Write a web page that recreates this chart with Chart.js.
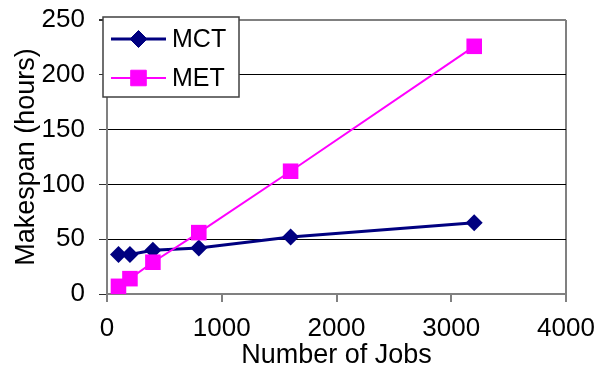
<!DOCTYPE html>
<html>
<head>
<meta charset="utf-8">
<script src="https://cdn.jsdelivr.net/npm/chart.js@4/dist/chart.umd.min.js"></script>
<style>
  html, body { margin: 0; padding: 0; background: #fff; }
  #wrap { width: 612px; height: 367px; }
</style>
</head>
<body>
<div id="wrap"><canvas id="c" width="612" height="367"></canvas></div>
<script>
// Makespan versus number of jobs for the MCT and MET heuristics
const jobCounts = [100, 200, 400, 800, 1600, 3200];
const mctHours = [36, 36, 40, 42, 52, 65];
const metHours = [7, 14, 29, 56, 112, 226];
const seriesNames = ['MCT', 'MET'];
const xTicks = [0, 1000, 2000, 3000, 4000];
const yTicks = [0, 50, 100, 150, 200, 250];

const FONT = "'Liberation Sans', Arial, sans-serif";
const GRAY = '#808080';
const NAVY = '#000080';
const MAGENTA = '#FF00FF';

const toPoints = (xs, ys) => xs.map((x, i) => ({ x: x, y: ys[i] }));

// Boxed legend sitting over the top-left corner of the plot
const boxLegend = {
  id: 'boxLegend',
  afterDraw(chart) {
    const ctx = chart.ctx;
    const box = { x: 103, y: 17, w: 136, h: 80 };
    ctx.save();
    ctx.fillStyle = '#fff';
    ctx.fillRect(box.x, box.y, box.w, box.h);
    ctx.strokeStyle = '#404040';
    ctx.lineWidth = 1.5;
    ctx.strokeRect(box.x, box.y, box.w, box.h);
    const rows = [chart.data.datasets[1], chart.data.datasets[0]];
    rows.forEach((ds, i) => {
      const cy = box.y + 22 + i * 39;
      ctx.strokeStyle = ds.borderColor;
      ctx.lineWidth = ds.borderWidth;
      ctx.beginPath();
      ctx.moveTo(111, cy);
      ctx.lineTo(166, cy);
      ctx.stroke();
      ctx.fillStyle = ds.pointBackgroundColor;
      ctx.strokeStyle = ds.pointBorderColor;
      ctx.lineWidth = 1;
      Chart.helpers.drawPoint(ctx, {
        pointStyle: ds.pointStyle,
        radius: ds.pointRadius,
        rotation: 0,
        borderWidth: 1
      }, 138.5, cy);
      ctx.fillStyle = '#000';
      ctx.font = '25px ' + FONT;
      ctx.textBaseline = 'middle';
      ctx.textAlign = 'left';
      ctx.fillText(ds.label, 172, cy + 1);
    });
    ctx.restore();
  }
};

new Chart(document.getElementById('c'), {
  type: 'line',
  data: {
    datasets: [
      {
        label: seriesNames[1],
        data: toPoints(jobCounts, metHours),
        borderColor: MAGENTA,
        backgroundColor: MAGENTA,
        borderWidth: 2,
        pointStyle: 'rect',
        pointRadius: 11,
        pointBackgroundColor: MAGENTA,
        pointBorderColor: MAGENTA,
        pointBorderWidth: 0,
        order: 0,
        clip: false
      },
      {
        label: seriesNames[0],
        data: toPoints(jobCounts, mctHours),
        borderColor: NAVY,
        backgroundColor: NAVY,
        borderWidth: 3,
        pointStyle: 'rectRot',
        pointRadius: 8.5,
        pointBackgroundColor: NAVY,
        pointBorderColor: NAVY,
        pointBorderWidth: 0,
        order: 1,
        clip: false
      }
    ]
  },
  options: {
    responsive: false,
    animation: false,
    events: [],
    layout: { padding: { top: 20, right: 46, left: 0, bottom: 0 } },
    plugins: { legend: { display: false }, tooltip: { enabled: false } },
    scales: {
      x: {
        type: 'linear',
        min: xTicks[0],
        max: xTicks[xTicks.length - 1],
        afterBuildTicks(scale) { scale.ticks = xTicks.map(v => ({ value: v })); },
        afterFit(scale) { scale.height = 73; scale.paddingLeft = 0; scale.paddingRight = 0; },
        border: { color: GRAY, width: 2 },
        grid: {
          color: c => (c.tick && c.tick.value === xTicks[xTicks.length - 1]) ? GRAY : 'rgba(0,0,0,0)',
          lineWidth: 2,
          tickColor: GRAY,
          tickLength: 8
        },
        ticks: {
          color: '#000',
          font: { family: FONT, size: 26 },
          padding: 11,
          maxRotation: 0,
          callback: v => String(v)
        },
        title: {
          display: true,
          text: 'Number of Jobs',
          color: '#000',
          font: { family: FONT, size: 27 },
          padding: { top: 0, bottom: -5 }
        }
      },
      y: {
        type: 'linear',
        min: yTicks[0],
        max: yTicks[yTicks.length - 1],
        afterBuildTicks(scale) { scale.ticks = yTicks.map(v => ({ value: v })); },
        afterFit(scale) { scale.width = 107; scale.paddingTop = 0; scale.paddingBottom = 0; },
        border: { color: GRAY, width: 2 },
        grid: {
          color: c => {
            const v = c.tick ? c.tick.value : null;
            if (v === yTicks[yTicks.length - 1] || v === yTicks[0]) return GRAY;
            return '#000';
          },
          lineWidth: c => (c.tick && (c.tick.value === yTicks[yTicks.length - 1])) ? 2 : 1,
          tickColor: '#303030',
          tickLength: 8
        },
        ticks: {
          color: '#000',
          font: { family: FONT, size: 26 },
          padding: 14,
          callback: v => String(v)
        },
        title: {
          display: true,
          text: 'Makespan (hours)',
          color: '#000',
          font: { family: FONT, size: 27 },
          padding: { top: 10, bottom: 0 }
        }
      }
    }
  },
  plugins: [boxLegend]
});
</script>
</body>
</html>
